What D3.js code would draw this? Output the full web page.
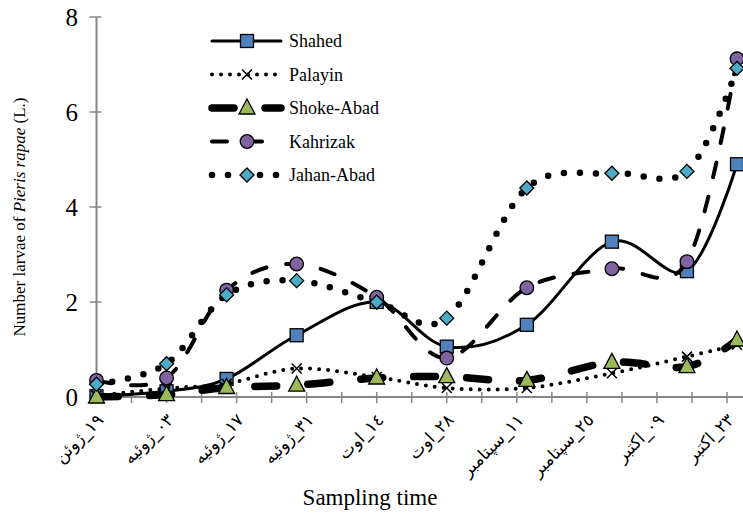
<!DOCTYPE html>
<html>
<head>
<meta charset="utf-8">
<script src="https://cdn.jsdelivr.net/npm/d3@7"></script>
<style>
  body { margin: 0; background: #fff; }
  svg { display: block; font-family: "Times New Roman", "Liberation Serif", "DejaVu Serif", serif; }
</style>
</head>
<body>
<div id="chart"></div>
<script>
// sampling dates (UTC) and larvae counts per site
const sampleDates = ["2013-06-19", "2013-07-03", "2013-07-15", "2013-07-29", "2013-08-14",
                     "2013-08-28", "2013-09-13", "2013-09-30", "2013-10-15", "2013-10-25"];
const shahed    = [0.02, 0.12, 0.38, 1.30, 2.00, 1.06, 1.52, 3.27, 2.65, 4.90];
const palayin   = [0.03, 0.18, 0.28, 0.60, 0.42, 0.19, 0.19, 0.50, 0.85, 1.10];
const shokeAbad = [0.00, 0.05, 0.20, 0.25, 0.40, 0.43, 0.35, 0.73, 0.64, 1.20];
const kahrizak  = [0.35, 0.40, 2.25, 2.80, 2.10, 0.82, 2.30, 2.70, 2.85, 7.12];
const jahanAbad = [0.27, 0.70, 2.15, 2.45, 2.00, 1.66, 4.40, 4.71, 4.75, 6.92];

const seriesNames = ["Shahed", "Palayin", "Shoke-Abad", "Kahrizak", "Jahan-Abad"];

// tick dates (every two weeks get a label)
const tickLabelDates = ["2013-06-19", "2013-07-03", "2013-07-17", "2013-07-31", "2013-08-14",
                        "2013-08-28", "2013-09-11", "2013-09-25", "2013-10-09", "2013-10-23"];
const tickLabels = ["١٩_ژوئن", "٠٣_ژوئیه", "١٧_ژوئیه", "٣١_ژوئیه", "١٤_اوت",
                    "٢٨_اوت", "١١_سپتامبر", "٢٥_سپتامبر", "٠٩_اکتبر", "٢٣_اکتبر"];
const yTicks = [0, 2, 4, 6, 8];

const parse = d3.utcParse("%Y-%m-%d");

const width = 743, height = 513;

const svg = d3.select("#chart").append("svg")
    .attr("width", width)
    .attr("height", height);

// scales
const x = d3.scaleUtc()
    .domain([parse("2013-06-19"), parse("2013-10-26")])
    .range([96.5, 742]);

const y = d3.scaleLinear()
    .domain([0, 8])
    .range([397, 17]);

const axisColor = "#868686";

// y axis (ticks crossing the line)
const yAxisG = svg.append("g").attr("class", "y-axis");
yAxisG.append("line")
    .attr("x1", x.range()[0]).attr("x2", x.range()[0])
    .attr("y1", y(0)).attr("y2", y(8))
    .attr("stroke", axisColor).attr("stroke-width", 2);
yAxisG.selectAll(".ytick").data(yTicks).enter().append("line")
    .attr("x1", x.range()[0] - 7).attr("x2", x.range()[0] + 5)
    .attr("y1", d => y(d)).attr("y2", d => y(d))
    .attr("stroke", axisColor).attr("stroke-width", 1.5);
yAxisG.selectAll(".ylab").data(yTicks).enter().append("text")
    .attr("x", 78).attr("y", d => y(d))
    .attr("dy", "0.35em")
    .attr("text-anchor", "end")
    .style("font-size", "25px")
    .text(d => d);

// x axis: weekly ticks crossing the line
const weekTicks = d3.utcDay.range(parse("2013-06-19"), parse("2013-10-27"), 7);
const xAxisG = svg.append("g").attr("class", "x-axis");
xAxisG.append("line")
    .attr("x1", x.range()[0]).attr("x2", width)
    .attr("y1", y(0)).attr("y2", y(0))
    .attr("stroke", axisColor).attr("stroke-width", 2);
xAxisG.selectAll(".xtick").data(weekTicks).enter().append("line")
    .attr("x1", d => x(d)).attr("x2", d => x(d))
    .attr("y1", y(0) - 5).attr("y2", y(0) + 6)
    .attr("stroke", axisColor).attr("stroke-width", 1.5);
xAxisG.selectAll(".xlab").data(tickLabelDates).enter().append("text")
    .attr("transform", d => "translate(" + (x(parse(d)) + 8) + "," + (y(0) + 24) + ") rotate(-45)")
    .attr("text-anchor", "end")
    .style("font-size", "17px")
    .style("font-family", "'DejaVu Sans', sans-serif")
    .text((d, i) => tickLabels[i]);

// axis titles
svg.append("text")
    .attr("x", 370).attr("y", 505)
    .attr("text-anchor", "middle")
    .style("font-size", "23px")
    .text("Sampling time");

const yTitle = svg.append("text")
    .attr("transform", "translate(25,217) rotate(-90)")
    .attr("text-anchor", "middle")
    .style("font-size", "17px");
yTitle.append("tspan").text("Number larvae of ");
yTitle.append("tspan").style("font-style", "italic").text("Pieris rapae");
yTitle.append("tspan").text(" (L.)");

// series styles
const styles = {
    "Shahed":     { values: shahed,    width: 3,   dash: null,    cap: "round", marker: "square",   fill: "#4F81BD" },
    "Palayin":    { values: palayin,   width: 4,   dash: "0,9",   cap: "round", marker: "cross",    fill: "none" },
    "Shoke-Abad": { values: shokeAbad, width: 7.5, dash: "22,31", cap: "round", marker: "triangle", fill: "#9BBB59" },
    "Kahrizak":   { values: kahrizak,  width: 4,   dash: "15,20", cap: "round", marker: "circle",   fill: "#8064A2" },
    "Jahan-Abad": { values: jahanAbad, width: 6.5, dash: "0,16",  cap: "round", marker: "diamond",  fill: "#4BACC6" }
};

const line = d3.line()
    .x(d => x(d.date))
    .y(d => y(d.value))
    .curve(d3.curveCardinal.tension(0));

function drawMarker(g, type, fill) {
    if (type === "square") {
        g.append("rect").attr("x", -6.5).attr("y", -6.5).attr("width", 13).attr("height", 13)
            .attr("fill", fill).attr("stroke", "#000").attr("stroke-width", 1.3);
    } else if (type === "cross") {
        g.append("path").attr("d", "M-5,-5L5,5M-5,5L5,-5")
            .attr("stroke", "#000").attr("stroke-width", 1.6).attr("fill", "none");
    } else if (type === "triangle") {
        g.append("path").attr("d", "M0,-9L8,6L-8,6Z")
            .attr("fill", fill).attr("stroke", "#000").attr("stroke-width", 1.3);
    } else if (type === "circle") {
        g.append("circle").attr("r", 6.8)
            .attr("fill", fill).attr("stroke", "#000").attr("stroke-width", 1.3);
    } else if (type === "diamond") {
        g.append("path").attr("d", "M0,-7L7,0L0,7L-7,0Z")
            .attr("fill", fill).attr("stroke", "#000").attr("stroke-width", 1.3);
    }
}

seriesNames.forEach(name => {
    const s = styles[name];
    const pts = s.values.map((v, i) => ({ date: parse(sampleDates[i]), value: v }));
    const g = svg.append("g").attr("class", "series");
    g.append("path")
        .datum(pts)
        .attr("d", line)
        .attr("fill", "none")
        .attr("stroke", "#000")
        .attr("stroke-width", s.width)
        .attr("stroke-linecap", s.cap)
        .attr("stroke-dasharray", s.dash);
    g.selectAll(".pt").data(pts).enter().append("g")
        .attr("transform", d => "translate(" + x(d.date) + "," + y(d.value) + ")")
        .each(function () { drawMarker(d3.select(this), s.marker, s.fill); });
});

// legend
const legend = svg.append("g").attr("class", "legend");
seriesNames.forEach((name, i) => {
    const s = styles[name];
    const ly = 41 + i * 33.5;
    const row = legend.append("g");
    row.append("line")
        .attr("x1", 212).attr("x2", 281)
        .attr("y1", ly).attr("y2", ly)
        .attr("stroke", "#000")
        .attr("stroke-width", s.width)
        .attr("stroke-linecap", s.cap)
        .attr("stroke-dasharray", s.dash);
    const m = row.append("g").attr("transform", "translate(247," + ly + ")");
    drawMarker(m, s.marker, s.fill);
    row.append("text")
        .attr("x", 289).attr("y", ly)
        .attr("dy", "0.35em")
        .style("font-size", "18px")
        .text(name);
});
</script>
</body>
</html>
